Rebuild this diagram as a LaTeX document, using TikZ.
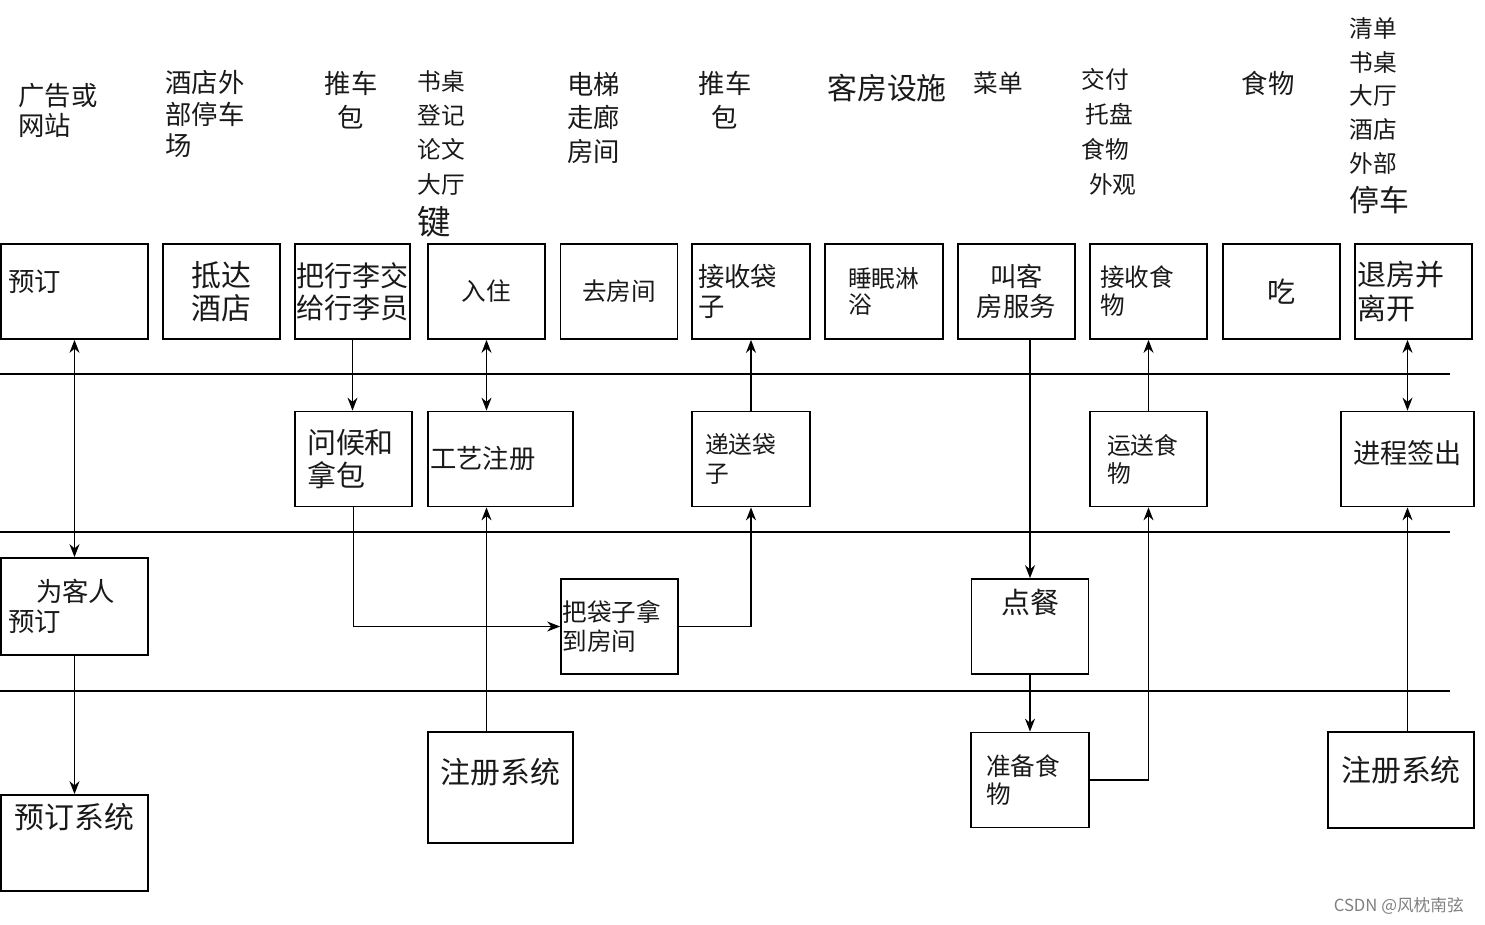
\documentclass[tikz,border=0pt]{standalone}
\usepackage{fontspec}
\setmainfont{Noto Sans CJK SC}
\usepackage{tikz}
\usetikzlibrary{arrows.meta}
\tikzset{
  blk/.style={draw, line width=1pt, inner sep=0.15cm, minimum width=2.34cm, minimum height=1.9cm, text=black!90},
  lab/.style={inner sep=0pt, text=black!90},
  lane/.style={line width=1pt},
  arr/.style={line width=0.8pt, -{Stealth[length=2.6mm,width=2mm]}},
  darr/.style={line width=0.8pt, {Stealth[length=2.6mm,width=2mm]}-{Stealth[length=2.6mm,width=2mm]}},
}
\newcommand{\fs}[2]{\fontsize{#1}{#2}\selectfont}
\begin{document}
\begin{tikzpicture}[x=0.02cm,y=-0.02cm]
\path[use as bounding box] (0,0) rectangle (1485,924);
% lanes
\draw[lane] (0,374) -- (1450,374);
\draw[lane] (0,532) -- (1450,532);
\draw[lane] (0,691) -- (1450,691);
% evidence
\node[lab, anchor=north west, align=left, font=\fs{15}{17}] (ad) at (18,83) {广告或\\网站};
\node[lab, anchor=north west, align=left, font=\fs{15}{18}] (pk) at (165,70) {酒店外\\部停车\\场};
\node[lab, anchor=north, align=center, font=\fs{15}{19}] (tca) at (351,71) {推车\\包};
\node[lab, anchor=north west, align=left, font=\fs{13.5}{19.5}] (sz) at (417,70) {书桌\\登记\\论文\\大厅\\[4pt]{\fs{19}{19}键}};
\node[lab, anchor=north west, align=left, font=\fs{15}{19}] (dt) at (567,72) {电梯\\走廊\\房间};
\node[lab, anchor=north, align=center, font=\fs{15}{19}] (tcb) at (725,71) {推车\\包};
\node[lab, font=\fs{17}{19}] (kf) at (887,88) {客房设施};
\node[lab, font=\fs{14}{16}] (cd) at (998,83) {菜单};
\node[lab, anchor=north west, align=left, font=\fs{13.5}{20}] (jf) at (1081,68) {交付\\\,托盘\\食物\\\,\,外观};
\node[lab, font=\fs{15}{17}] (sw) at (1268,83) {食物};
\node[lab, anchor=north west, align=left, font=\fs{13.5}{19.2}] (qd) at (1349,17) {清单\\书桌\\大厅\\酒店\\外部\\[3pt]{\fs{17}{17}停车}};
% customer actions
\node[blk, minimum width=2.94cm, text width=2.64cm, text depth=0.45cm, font=\fs{15}{17}] (yd) at (74.5,291.5) {预订};
\node[blk, align=center, font=\fs{17}{19}] (dd) at (221.5,291.5) {抵达\\酒店};
\node[blk, minimum width=2.3cm, inner sep=0pt, align=center, font=\fs{16}{18}] (xl) at (352.5,291.5) {把行李交\\给行李员};
\node[blk, font=\fs{14}{16}] (rz) at (486.5,291.5) {入住};
\node[blk, font=\fs{14}{16}] (qf) at (619,291.5) {去房间};
\node[blk, inner xsep=0.12cm, text width=2.12cm, align=left, font=\fs{15}{17}] (js) at (751,291.5) {接收袋\\子};
\node[blk, inner xsep=0.46cm, text width=1.44cm, align=left, font=\fs{13.5}{15}] (sm) at (884,291.5) {睡眠淋\\浴};
\node[blk, align=center, font=\fs{15}{17}] (jk) at (1016.5,291.5) {叫客\\房服务};
\node[blk, inner xsep=0.2cm, text width=1.94cm, align=left, font=\fs{14}{16}] (jsw) at (1148.5,291.5) {接收食\\物};
\node[blk, font=\fs{16}{18}] (chi) at (1281.5,291.5) {吃};
\node[blk, inner xsep=0.05cm, text width=2.24cm, align=left, font=\fs{16.5}{19}] (tf) at (1413.5,291.5) {退房并\\离开};
% onstage
\node[blk, inner xsep=0.24cm, text width=1.86cm, align=left, font=\fs{16.5}{19}] (wh) at (353.5,459) {问候和\\拿包};
\node[blk, minimum width=2.9cm, inner xsep=0.04cm, text width=2.82cm, font=\fs{15}{17}] (gy) at (500.5,459) {工艺注册};
\node[blk, inner xsep=0.26cm, text width=1.84cm, align=left, font=\fs{13.5}{16.5}] (ds) at (751,459) {递送袋\\子};
\node[blk, inner xsep=0.34cm, text width=1.66cm, align=left, font=\fs{13.5}{16}] (ys) at (1148.5,459) {运送食\\物};
\node[blk, minimum width=2.66cm, text depth=0.3cm, font=\fs{15.5}{17}] (jc) at (1407.5,459) {进程签出};
% backstage
\node[blk, minimum width=2.94cm, minimum height=1.94cm, text width=2.64cm, align=left, font=\fs{15}{17}] (wk) at (74.5,606.5) {\hspace*{0.55cm}为客人\\预订};
\node[blk, inner xsep=0.03cm, text width=2.28cm, align=left, font=\fs{14}{16.5}] (bt) at (619.5,626.5) {把袋子拿\\到房间};
\node[blk, text depth=1cm, font=\fs{16.5}{18}] (dc) at (1030,626.5) {点餐};
% support
\node[blk, minimum width=2.94cm, minimum height=1.92cm, text depth=1.07cm, font=\fs{17}{19}] (yx) at (74.5,843) {预订系统};
\node[blk, minimum width=2.9cm, minimum height=2.22cm, text depth=0.67cm, font=\fs{17}{19}] (zc) at (500.5,787.5) {注册系统};
\node[blk, inner xsep=0.3cm, text width=1.76cm, align=left, font=\fs{14}{16}] (zb) at (1030,780) {准备食\\物};
\node[blk, minimum width=2.92cm, minimum height=1.92cm, text depth=0.45cm, font=\fs{17}{19}] (zcb) at (1401,780) {注册系统};
% connectors
\draw[darr] (yd.south) -- (wk.north);
\draw[arr] (wk.south) -- (yx.north);
\draw[arr] (xl.south) -- (xl.south |- wh.north);
\draw[darr] (rz.south) -- (rz.south |- gy.north);
\draw[arr] (wh.south) |- (bt.west);
\draw[arr] (zc.north -| rz.south) -- (gy.south -| rz.south);
\draw[arr] (bt.east) -| (ds.south);
\draw[arr] (ds.north) -- (js.south);
\draw[arr] (jk.south -| dc.north) -- (dc.north);
\draw[arr] (dc.south) -- (zb.north);
\draw[arr] (zb.east) -| (ys.south);
\draw[arr] (ys.north) -- (jsw.south);
\draw[darr] (tf.south -| jc.north) -- (jc.north);
\draw[arr] (zcb.north -| jc.south) -- (jc.south);
\node[anchor=east, text=gray, font=\fs{9.5}{11}] (wm) at (1470,906) {CSDN @风枕南弦};
\end{tikzpicture}
\end{document}
